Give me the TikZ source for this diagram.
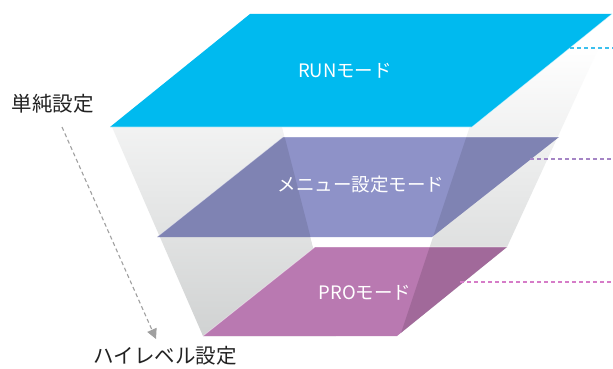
\documentclass[tikz,border=0pt]{standalone}
\usepackage{fontspec}
\setmainfont{Noto Sans CJK JP}
\usetikzlibrary{arrows.meta}
\definecolor{runc}{HTML}{00BAEF}
\definecolor{menuc}{HTML}{8E92C8}
\definecolor{proc}{HTML}{B979B1}
\definecolor{facegray}{HTML}{D0D2D2}
\definecolor{labc}{HTML}{222222}
\definecolor{arrowc}{HTML}{A0A0A0}
\definecolor{dashrun}{HTML}{3CC0EE}
\definecolor{dashmenu}{HTML}{A585C5}
\definecolor{dashpro}{HTML}{D67CC8}
\begin{document}
\begin{tikzpicture}[x=1pt,y=-1pt,
  layerlabel/.style={text=white,font=\fontsize{18.5}{18.5}\selectfont,inner sep=0pt},
  sidelabel/.style={text=labc,font=\fontsize{20.5}{20.5}\selectfont,inner sep=0pt},
  leader/.style={dash pattern=on 4pt off 3pt,line width=1.1pt},
  faceshade/.style={top color=white,bottom color=facegray},
  darkside/.style={fill=black,fill opacity=#1},
]
\useasboundingbox (0,0) rectangle (613,369);
\fill[white] (0,0) rectangle (613,369);

% funnel faces
\begin{scope}
  \clip (112,127) -- (600,45) -- (507,247) -- (397,336) -- (203,336) -- cycle;
  \shade[faceshade] (0,45) -- (261,45) -- (336,336) -- (0,336) -- cycle;
  \fill[white] (261,45) -- (497,45) -- (400,336) -- (336,336) -- cycle;
  \shade[faceshade] (497,45) -- (620,45) -- (620,336) -- (400,336) -- cycle;
\end{scope}

% top layer
\fill[runc] (250,14) -- (612,14) -- (472,127) -- (110,127) -- cycle;
\draw[white,opacity=0.6,line width=0.7pt] (110,127) -- (472,127) -- (612,14);

% middle layer
\fill[menuc] (283,137) -- (559,137) -- (432,237) -- (157,237) -- cycle;
\begin{scope}
  \clip (283,137) -- (559,137) -- (432,237) -- (157,237) -- cycle;
  \fill[darkside=0.1] (0,45) -- (261,45) -- (336,336) -- (0,336) -- cycle;
  \fill[darkside=0.1] (497,45) -- (620,45) -- (620,336) -- (400,336) -- cycle;
\end{scope}
\draw[white,opacity=0.5,line width=0.7pt] (157,237) -- (283,137) -- (559,137);

% bottom layer
\fill[proc] (315,247) -- (507,247) -- (397,336) -- (203,336) -- cycle;
\begin{scope}
  \clip (315,247) -- (507,247) -- (397,336) -- (203,336) -- cycle;
  \fill[darkside=0.13] (497,45) -- (620,45) -- (620,336) -- (400,336) -- cycle;
\end{scope}
\draw[white,opacity=0.5,line width=0.7pt] (203,336) -- (315,247) -- (507,247);

% leaders
\coordinate (runA) at (570,48);   \coordinate (runB) at (613,48);
\coordinate (menuA) at (530,159); \coordinate (menuB) at (613,159);
\coordinate (proA) at (460,282);  \coordinate (proB) at (613,282);
\draw[leader,dashrun] (runA) -- (runB);
\draw[leader,dashmenu] (menuA) -- (menuB);
\draw[leader,dashpro] (proA) -- (proB);

% labels
\node[layerlabel] (run) at (345,71) {RUNモード};
\node[layerlabel] (menu) at (361,185) {メニュー設定モード};
\node[layerlabel] (pro) at (365,293) {PROモード};
\node[sidelabel] (simple) at (53,104) {単純設定};
\node[sidelabel] (high) at (165,356) {ハイレベル設定};

% arrow
\coordinate (arrS) at (62,127);
\coordinate (arrE) at (156,339);
\draw[arrowc,line width=1.1pt,dash pattern=on 4pt off 3pt,
  -{Triangle[length=10pt,width=10pt]}] (arrS) -- (arrE);
\end{tikzpicture}
\end{document}
